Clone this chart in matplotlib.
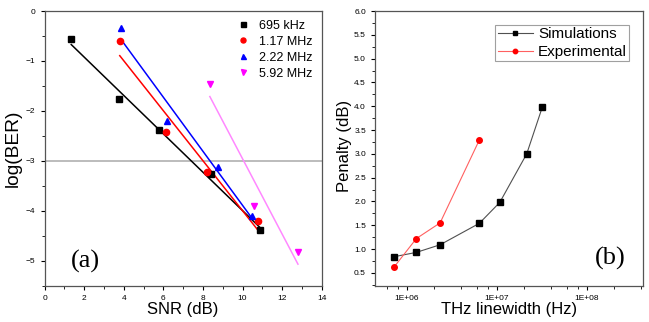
import matplotlib
matplotlib.use('Agg')
import matplotlib.pyplot as plt
import numpy as np
from matplotlib.ticker import MultipleLocator, LogLocator, FixedLocator

plt.rcParams['font.family'] = ['Liberation Sans', 'DejaVu Sans']

# panel (a): log(BER) vs SNR
labels_a = ['695 kHz', '1.17 MHz', '2.22 MHz', '5.92 MHz']
snr_695 = [1.35, 3.75, 5.8, 8.4, 10.9]
ber_695 = [-0.57, -1.77, -2.38, -3.27, -4.38]
snr_117 = [3.8, 6.15, 8.2, 10.8]
ber_117 = [-0.61, -2.43, -3.22, -4.2]
snr_222 = [3.85, 6.2, 8.75, 10.5]
ber_222 = [-0.35, -2.2, -3.12, -4.1]
snr_592 = [8.35, 10.6, 12.8]
ber_592 = [-1.47, -3.9, -4.82]

# panel (b): penalty vs linewidth
lw_sim = [7.3e5, 1.28e6, 2.35e6, 6.4e6, 1.08e7, 2.15e7, 3.2e7]
pen_sim = [0.84, 0.93, 1.09, 1.54, 1.98, 3.0, 3.98]
lw_exp = [7.3e5, 1.28e6, 2.35e6, 6.4e6]
pen_exp = [0.63, 1.22, 1.55, 3.29]

fig = plt.figure(figsize=(6.49, 3.22), dpi=100)
ax1 = fig.add_axes([0.0686, 0.1127, 0.4271, 0.8531])
ax2 = fig.add_axes([0.5778, 0.1127, 0.4130, 0.8531])

series = [(snr_695, ber_695, 'black', 's', 'black'),
          (snr_117, ber_117, 'red', 'o', 'red'),
          (snr_222, ber_222, 'blue', '^', 'blue'),
          (snr_592, ber_592, 'magenta', 'v', '#ff88ff')]

ax1.axhline(-3, color='#b0b0b0', lw=1.2, zorder=1)
for (x, y, c, m, lc), lab in zip(series, labels_a):
    x = np.array(x)
    y = np.array(y)
    k, b = np.polyfit(x, y, 1)
    ax1.plot([x.min(), x.max()], [k * x.min() + b, k * x.max() + b], color=lc, lw=1.1, zorder=2)
    ax1.plot(x, y, m, color=c, ms=4.5, ls='none', label=lab, zorder=3)

ax1.set_xlim(0, 14)
ax1.set_ylim(-5.5, 0)
ax1.xaxis.set_major_locator(MultipleLocator(2))
ax1.xaxis.set_minor_locator(MultipleLocator(1))
ax1.yaxis.set_major_locator(MultipleLocator(1))
ax1.yaxis.set_minor_locator(MultipleLocator(0.5))
ax1.set_xlabel('SNR (dB)', fontsize=12, labelpad=0)
ax1.set_ylabel('log(BER)', fontsize=13.8)
ax1.yaxis.set_label_coords(-0.081, 0.5)
ax1.legend(loc='upper right', frameon=False, fontsize=9, handletextpad=0.78,
           labelspacing=0.32, borderaxespad=0.3, handlelength=1.0, markerscale=0.8)
ax1.text(2.07, -5.02, '(a)', family='Liberation Serif', fontsize=19, ha='center', va='center')

ax2.plot(lw_sim, pen_sim, '-s', color='#505050', mfc='black', mec='black', ms=4, lw=0.8,
         label='Simulations')
ax2.plot(lw_exp, pen_exp, '-o', color='#ff6060', mfc='red', mec='red', ms=4,
         lw=0.8, label='Experimental')
ax2.set_xscale('log')
ax2.set_xlim(4.45e5, 4.2e8)
ax2.set_ylim(0.23, 6.0)
ax2.xaxis.set_major_locator(FixedLocator([1e6, 1e7, 1e8]))
ax2.xaxis.set_minor_locator(LogLocator(base=10, subs=(0.2, 0.4, 0.6, 0.8)))
ax2.set_xticklabels(['1E+06', '1E+07', '1E+08'])
ax2.yaxis.set_major_locator(MultipleLocator(0.5))
ax2.yaxis.set_minor_locator(MultipleLocator(0.25))
ax2.set_xlabel('THz linewidth (Hz)', fontsize=12, labelpad=0)
ax2.set_ylabel('Penalty (dB)', fontsize=12)
ax2.yaxis.set_label_coords(-0.087, 0.51)
leg = ax2.legend(loc='upper right', fontsize=11, fancybox=False, edgecolor='#888888',
                 handlelength=2.3, handletextpad=0.35, borderaxespad=0.9,
                 labelspacing=0.26, borderpad=0.15, markerscale=0.8)
leg.get_frame().set_linewidth(0.8)
ax2.text(1.8e8, 0.81, '(b)', family='Liberation Serif', fontsize=19, ha='center', va='center')

for ax in (ax1, ax2):
    ax.tick_params(which='both', direction='out', labelsize=6, top=False, right=False)
    ax.tick_params(which='major', length=3, width=0.8)
    ax.tick_params(which='minor', length=2, width=0.6)
    for s in ax.spines.values():
        s.set_linewidth(0.9)
        s.set_color('#555555')

fig.savefig('out.png', dpi=100)
